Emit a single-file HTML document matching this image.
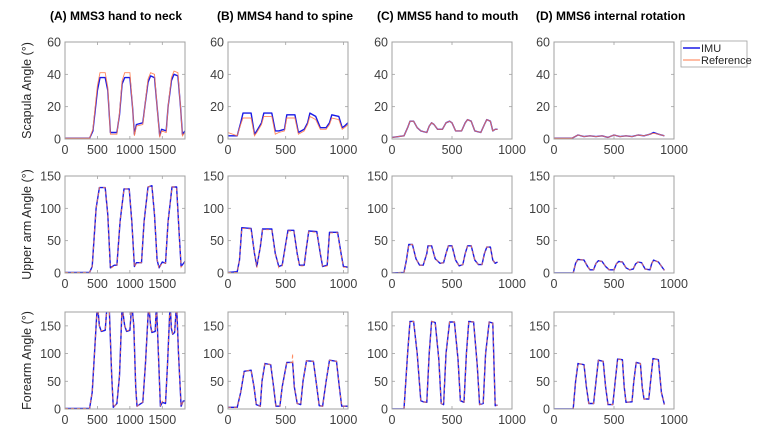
<!DOCTYPE html>
<html><head><meta charset="utf-8"><style>
body{margin:0;background:#fff;}
svg{display:block;font-family:"Liberation Sans",Arial,sans-serif;}
</style></head><body>
<svg id="fig" width="758" height="437" viewBox="0 0 758 437" xmlns="http://www.w3.org/2000/svg"></svg>
<script>
// ---- data: [column][row] ----
const a1x=[0,380,430,500,540,620,660,700,800,840,880,920,1000,1040,1070,1100,1200,1230,1280,1320,1380,1420,1460,1490,1560,1590,1640,1680,1740,1780,1810,1850];
const a1imu=[0.5,0.5,5,30,38,38,30,4,4,15,34,38,38,20,3,9,10,20,35,39,38,20,2,6,5,20,36,40,39,20,3,5];
const a1ref=[0.5,0.5,6,33,41,41,32,3,3,16,36,41,41,20,2,8,9,20,37,41,40,20,1,5,4,20,38,42,41,20,2,4];
const a2x=[0,380,420,480,530,620,660,700,760,800,850,910,990,1030,1070,1100,1180,1220,1280,1340,1380,1420,1450,1500,1550,1590,1650,1720,1760,1790,1850];
const a2imu=[1,1,10,100,132,132,90,8,12,12,80,130,130,80,10,16,16,80,133,135,90,20,8,17,15,80,133,133,60,10,18];
const a2ref=[1,1,10,100,132,132,90,7,11,12,80,130,130,80,9,15,16,80,133,135,90,20,7,16,15,80,133,133,60,9,17];
const a3x=[0,380,420,500,530,560,620,650,680,720,745,800,840,880,920,950,1000,1030,1060,1090,1110,1200,1240,1290,1320,1340,1390,1410,1440,1470,1500,1550,1580,1620,1640,1660,1690,1720,1750,1790,1820,1850];
const a3imu=[1,1,30,190,150,140,142,190,190,60,3,10,60,185,150,140,142,190,150,40,5,12,80,190,150,138,140,190,100,5,12,10,80,190,145,135,138,190,100,5,14,15];
const a3ref=[1,1,30,190,150,141,143,190,190,60,3,10,60,185,150,141,143,190,150,40,5,13,80,190,150,140,141,190,100,5,14,12,80,190,145,136,139,190,100,5,13,15];
const b1x=[0,80,110,130,200,230,250,290,310,380,410,440,490,510,580,610,660,690,710,760,800,850,880,900,960,990,1010,1040];
const b1imu=[2,2,10,16,16,3,5,10,16,16,5,5,6,15,15,4,6,10,16,14,7,7,10,15,14,7,8,10];
const b1ref=[4,2,9,13,13,2,4,9,14,14,3,4,5,13,13,3,5,9,14,12,6,6,9,13,12,6,7,9];
const b2x=[0,80,100,120,200,230,250,280,300,380,410,440,470,500,520,570,600,620,660,680,700,770,800,820,860,880,950,980,1000,1040];
const b2imu=[1,2,20,70,69,30,10,40,68,68,30,10,12,45,66,66,30,12,12,40,65,64,30,10,12,63,63,30,10,9];
const b2ref=[1,1,20,69,68,30,8,40,67,67,30,8,11,45,65,65,30,11,11,40,64,63,30,9,11,62,62,30,9,9];
const b3x=[0,80,110,140,200,225,245,280,295,320,370,395,415,450,470,510,555,560,565,575,600,630,650,680,740,770,790,820,850,880,940,965,985,1040];
const b3imu=[3,3,30,68,70,40,8,5,50,82,80,40,5,5,40,84,84,84,70,40,10,8,50,87,86,40,6,5,50,88,86,40,5,5];
const b3ref=[3,3,30,68,70,40,8,5,50,82,80,40,5,5,40,84,84,100,70,40,10,8,50,87,86,40,6,5,50,88,86,40,5,5];
const c1x=[0,100,130,150,180,210,240,290,310,330,350,380,420,450,480,500,530,580,610,630,660,690,740,770,790,820,840,860,880];
const c1imu=[1,2,7,11,11,7,5,4,8,10,9,6,6,10,11,10,5,5,10,12,11,5,4,9,12,11,5,6,6];
const c1ref=[1,2,7,11,11,7,5,4,8,10,9,6,6,10,11,10,5,5,10,12,11,5,4,9,12,11,5,6,6];
const c2x=[0,100,120,140,170,200,230,260,290,300,330,360,400,430,450,470,500,530,560,590,610,630,660,690,720,750,770,790,820,840,860,880];
const c2imu=[0,1,20,44,44,22,12,12,30,42,42,22,15,16,30,42,42,20,11,13,30,42,42,20,13,13,30,40,40,20,15,17];
const c2ref=[0,1,20,44,44,22,12,12,30,42,42,22,15,16,30,42,42,20,11,13,30,42,42,20,13,13,30,40,40,20,15,17];
const c3x=[0,100,130,150,180,210,240,260,290,310,330,360,390,410,430,450,480,520,550,570,600,620,640,680,710,730,760,780,810,840,860,880];
const c3imu=[0,0,100,158,158,100,15,13,12,100,158,156,90,10,8,100,157,157,90,15,12,100,158,157,80,8,10,100,157,155,6,7];
const c3ref=[0,0,100,158,158,100,15,13,12,100,158,156,90,10,8,100,157,157,90,15,12,100,158,157,80,8,10,100,157,155,6,7];
const d1x=[0,150,200,250,300,350,400,450,500,550,600,650,700,750,800,830,870,920];
const d1imu=[0.5,0.5,2.5,1.5,2,1.5,2,1,2.5,1.5,2,1.5,2.5,2,3,4,3,2];
const d1ref=[0.5,0.5,2.5,1.5,2,1.5,2,1,2.5,1.5,2,1.5,2.5,2,3,3.5,3,2];
const d2x=[0,160,180,200,250,280,300,330,350,370,400,430,460,500,520,540,570,600,630,660,680,700,730,760,800,815,830,870,920];
const d2imu=[0,0,15,21,20,10,5,5,15,19,18,10,5,5,14,18,17,8,5,6,14,17,16,6,5,15,20,17,4];
const d2ref=[0,0,15,21,20,10,5,5,15,19,18,10,5,5,14,18,17,8,5,6,14,17,16,6,5,15,20,17,4];
const d3x=[0,160,180,200,250,270,290,330,350,370,410,430,450,490,510,530,570,585,600,650,665,685,720,735,750,790,805,825,870,895,920];
const d3imu=[0,0,50,82,80,40,10,10,50,88,86,40,8,8,50,90,89,40,12,13,50,84,82,40,18,18,50,91,89,30,8];
const d3ref=[0,0,50,82,80,40,10,10,50,88,86,40,8,8,50,90,89,40,12,13,50,84,82,40,18,18,50,91,89,30,8];

const titles=["(A) MMS3 hand to neck","(B) MMS4 hand to spine","(C) MMS5 hand to mouth","(D) MMS6 internal rotation"];
const rowLabels=["Scapula Angle (°)","Upper arm Angle (°)","Forearm Angle (°)"];
const xMaxes=[1850,1040,1000,1000];
const yMaxes=[60,150,175];
const yTicks=[[0,20,40,60],[0,50,100,150],[0,50,100,150]];
const xTicks=[[0,500,1000,1500],[0,500,1000],[0,500,1000],[0,500,1000]];

const series=[[[a1x,a1imu,a1ref],[a2x,a2imu,a2ref],[a3x,a3imu,a3ref]],
 [[b1x,b1imu,b1ref],[b2x,b2imu,b2ref],[b3x,b3imu,b3ref]],
 [[c1x,c1imu,c1ref],[c2x,c2imu,c2ref],[c3x,c3imu,c3ref]],
 [[d1x,d1imu,d1ref],[d2x,d2imu,d2ref],[d3x,d3imu,d3ref]]];

const colL=[65,228,392,554], W=120;
const rowT=[42,176,312], H=97;
const titleX=[50,217,377,536];
const NS="http://www.w3.org/2000/svg";
const svg=document.getElementById('fig');
function mk(tag,attrs,parent){const e=document.createElementNS(NS,tag);for(const k in attrs)e.setAttribute(k,attrs[k]);(parent||svg).appendChild(e);return e;}
const defs=mk('defs',{});

for(let c=0;c<4;c++){
  const t=mk('text',{x:titleX[c],y:20,'font-size':12,'font-weight':'bold',fill:'#000'});
  t.textContent=titles[c];
  
  
}
for(let r=0;r<3;r++){
  const cy=rowT[r]+H/2;
  const t=mk('text',{x:0,y:0,'font-size':12.5,fill:'#262626','text-anchor':'middle',transform:`translate(31,${cy}) rotate(-90)`});
  t.textContent=rowLabels[r];
  
  
}
for(let c=0;c<4;c++){for(let r=0;r<3;r++){
  const L=colL[c],T=rowT[r],xm=xMaxes[c],ym=yMaxes[r];
  const sx=v=>L+v/xm*W, sy=v=>T+H-v/ym*H;
  const g=mk('g',{});
  
  
  const cp=mk('clipPath',{id:'cp'+c+r},defs);
  mk('rect',{x:L,y:T,width:W,height:H},cp);
  yTicks[r].forEach(v=>{
    const y=sy(v);
    mk('line',{x1:L,x2:L+3,y1:y,y2:y,stroke:'#a0a0a0','stroke-width':0.8},g);
    mk('line',{x1:L+W,x2:L+W-3,y1:y,y2:y,stroke:'#a0a0a0','stroke-width':0.8},g);
    const t=mk('text',{x:L-4,y:y+4.5,'font-size':12.5,fill:'#404040','text-anchor':'end'},g);
    t.textContent=v;
    
    
  });
  xTicks[c].forEach(v=>{
    const x=sx(v);
    mk('line',{x1:x,x2:x,y1:T+H,y2:T+H-3,stroke:'#a0a0a0','stroke-width':0.8},g);
    mk('line',{x1:x,x2:x,y1:T,y2:T+3,stroke:'#a0a0a0','stroke-width':0.8},g);
    const t=mk('text',{x:x,y:T+H+15,'font-size':12.5,fill:'#404040','text-anchor':'middle'},g);
    t.textContent=v;
    
    
  });
  const [xs,imu,ref]=series[c][r];
  const pts=arr=>xs.map((x,i)=>sx(x).toFixed(1)+','+sy(arr[i]).toFixed(1)).join(' ');
  const pi=mk('polyline',{points:pts(imu),fill:'none',stroke:'#1a1ae6','stroke-width':1.4,'clip-path':`url(#cp${c}${r})`,'stroke-linejoin':'round'},g);
  
  
  const pr=mk('polyline',{points:pts(ref),fill:'none',stroke:'#ff7a4a','stroke-width':0.9,'stroke-dasharray':r>0?'3 3':'none','stroke-opacity':0.9,'clip-path':`url(#cp${c}${r})`},g);
  
  
  mk('rect',{x:L,y:T,width:W,height:H,fill:'none',stroke:'#a0a0a0','stroke-width':1},g);
}}
const lg=mk('g',{});


mk('rect',{x:681,y:41,width:66,height:26,fill:'#fff',stroke:'#a0a0a0','stroke-width':0.8},lg);
mk('line',{x1:683,x2:700,y1:48,y2:48,stroke:'#1a1ae6','stroke-width':1.5},lg);
mk('line',{x1:683,x2:700,y1:60,y2:60,stroke:'#ff7a4a','stroke-width':1},lg);
const l1=mk('text',{x:701,y:52,'font-size':11,fill:'#262626'},lg);l1.textContent='IMU';


const l2=mk('text',{x:701,y:64,'font-size':11,fill:'#262626'},lg);l2.textContent='Reference';


</script>
</body></html>
